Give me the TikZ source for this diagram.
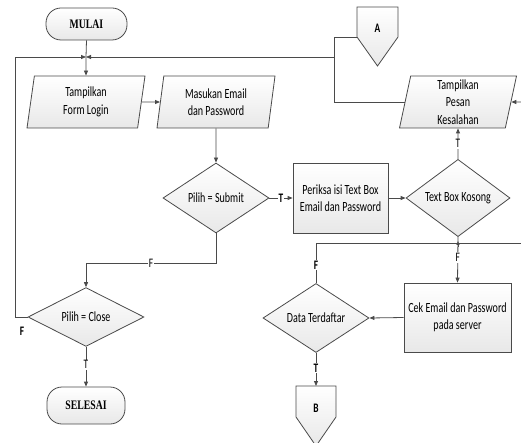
\documentclass[tikz,border=0pt]{standalone}
\usepackage{fontspec}
\setmainfont{Carlito}[FakeStretch=0.72]
\newfontfamily\termfont{Liberation Serif}[FakeStretch=0.75]
\usetikzlibrary{shapes.geometric,arrows.meta}
\definecolor{lc}{HTML}{4A4A4A}
\begin{document}
\begin{tikzpicture}[x=1pt,y=-1pt,
  txt/.style={font=\fontsize{14}{17.5}\selectfont},
  base/.style={draw=lc, line width=0.8pt, top color=white, bottom color=black!9, align=center, inner sep=0pt, txt},
  term/.style={base, rectangle, rounded corners=15pt, font=\termfont\bfseries\fontsize{13}{16}\selectfont},
  io/.style={base, trapezium, trapezium left angle=76, trapezium right angle=104, trapezium stretches body, minimum width=118pt, minimum height=52pt},
  proc/.style={base, rectangle},
  dec/.style={base, diamond},
  conn/.style={draw=lc, line width=0.8pt, top color=white, bottom color=black!9},
  line/.style={draw=lc, line width=0.8pt},
  arr/.style={line, -{Triangle[length=5pt,width=4pt]}},
  lab/.style={fill=white, inner sep=1pt, font=\fontsize{13}{15}\selectfont},
  blab/.style={lab, font=\bfseries\fontsize{13}{15}\selectfont}]
\useasboundingbox (0,0) rectangle (521,443);

% nodes
\node[term, minimum width=81pt, minimum height=32pt] (mulai) at (86.5,24) {MULAI};
\node[io] (tfl) at (86,102) {Tampilkan\\Form Login};
\node[io] (mep) at (216,102) {Masukan Email\\dan Password};
\node[io, minimum width=117pt] (pesan) at (458,102) {Tampilkan\\Pesan\\Kesalahan};
\node[dec, minimum width=106pt, minimum height=70pt] (submit) at (216,198) {Pilih = Submit};
\node[proc, minimum width=95pt, minimum height=70pt] (periksa) at (340.5,198) {Periksa isi Text Box\\Email dan Password};
\node[dec, minimum width=104pt, minimum height=70pt] (tbk) at (458,198) {Text Box Kosong};
\node[proc, minimum width=107pt, minimum height=69pt] (cek) at (457.5,317.5) {Cek Email dan Password\\pada server};
\node[dec, minimum width=106pt, minimum height=69pt] (dt) at (316,318) {Data Terdaftar};
\node[dec, minimum width=116pt, minimum height=53pt] (close) at (86,317) {Pilih = Close};
\node[term, minimum width=78pt, minimum height=37pt] (selesai) at (86,405.5) {SELESAI};

% off-page connectors
\path[conn] (357,7) -- (398,7) -- (398,37) -- (377.5,66) -- (357,37) -- cycle;
\node[font=\bfseries\fontsize{13}{15}\selectfont] (a) at (377.5,28) {A};
\coordinate (aleft) at (357,37);
\path[conn] (296,386) -- (336,386) -- (336,417) -- (316,446) -- (296,417) -- cycle;
\node[font=\bfseries\fontsize{13}{15}\selectfont] (b) at (316,408) {B};
\coordinate (btop) at (316,386);

% helper coordinates
\coordinate (j) at (86,57);
\coordinate (jl) at (15,57);
\coordinate (jr) at (334,57);
\coordinate (rin) at (521,102);
\coordinate (rout) at (521,243);

% connectors
\draw[line] (mulai.south) -- (j);
\draw[arr] (j) -- (tfl.north);
\draw[arr] (close.west) -- (close.west -| jl) -- (jl) -- (j);
\draw[arr] (pesan.west) -- (pesan.west -| jr) -- (jr) -- (j);
\draw[line] (aleft) -- (aleft -| jr) -- (jr);
\draw[arr] (tfl.east) -- (mep.west);
\draw[arr] (mep.south) -- (submit.north);
\draw[arr] (submit.east) -- node[blab] {T} (periksa.west);
\draw[arr] (periksa.east) -- (tbk.west);
\draw[arr] (tbk.north) -- node[lab] {T} (pesan.south);
\draw[arr] (rin) -- (pesan.east);
\draw[line] (dt.north) -- node[blab, pos=0.45] {F} (dt.north |- rout) -- (rout);
\draw[arr] (tbk.south) -- node[lab, pos=0.45] {F} (cek.north);
\draw[line, -{Triangle[length=4pt,width=3pt]}] (458,247) -- (458,241);
\draw[arr] (cek.west) -- (dt.east);
\draw[arr] (dt.south) -- node[blab, pos=0.45] {T} (btop);
\draw[arr] (submit.south) -- (216,263) -- node[lab, pos=0.5] {F} (86,263) -- (close.north);
\draw[arr] (close.south) -- node[lab, pos=0.45] {T} (selesai.north);
\node[font=\bfseries\fontsize{13}{15}\selectfont] (fl) at (22,331) {F};
\end{tikzpicture}
\end{document}
